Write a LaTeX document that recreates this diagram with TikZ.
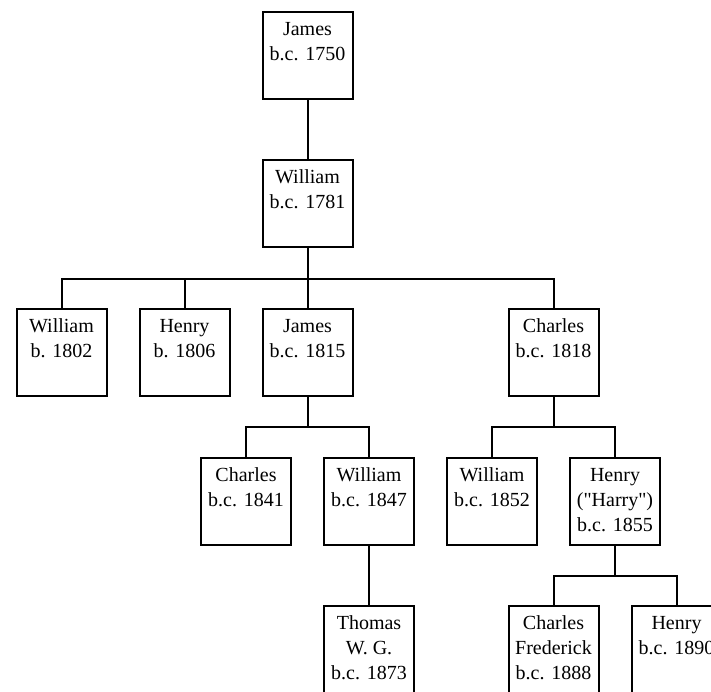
\documentclass[tikz,border=0pt]{standalone}
\usepackage{fontspec}
\setmainfont{Liberation Serif}[Ligatures=TeXOff]
\tikzset{
  person/.style = {
    draw, line width=2pt,
    minimum width=90pt, minimum height=87pt,
    anchor=north, align=center, inner sep=0pt,
    font=\fontsize{20}{25}\selectfont
  },
  link/.style = {line width=2pt}
}

\begin{document}
\begin{tikzpicture}[x=1pt,y=-1pt]
  \clip (0,0) rectangle (711,692);
  % generations
  \node[person] (j1750) at (307.5,11) {\strut James\\b.c. 1750\\\strut};
  \node[person] (w1781) at (307.5,159.5) {\strut William\\b.c. 1781\\\strut};
  \node[person] (w1802) at (61.5,308) {\strut William\\b. 1802\\\strut};
  \node[person] (h1806) at (184.5,308) {\strut Henry\\b. 1806\\\strut};
  \node[person] (j1815) at (307.5,308) {\strut James\\b.c. 1815\\\strut};
  \node[person] (c1818) at (553.5,308) {\strut Charles\\b.c. 1818\\\strut};
  \node[person] (c1841) at (246,456.5) {\strut Charles\\b.c. 1841\\\strut};
  \node[person] (w1847) at (369,456.5) {\strut William\\b.c. 1847\\\strut};
  \node[person] (w1852) at (492,456.5) {\strut William\\b.c. 1852\\\strut};
  \node[person] (h1855) at (615,456.5) {\strut Henry\\("Harry")\\b.c. 1855\strut};
  \node[person] (t1873) at (369,605) {\strut Thomas\\W. G.\\b.c. 1873\strut};
  \node[person] (c1888) at (553.5,605) {\strut Charles\\Frederick\\b.c. 1888\strut};
  \node[person] (h1890) at (676.5,605) {\strut Henry\\b.c. 1890\\\strut};
  % family lines
  \draw[link] (j1750.south) -- (w1781.north);
  \foreach \c in {w1802,h1806,j1815,c1818}
    \draw[link] (w1781.south) -- ++(0,30) -| (\c.north);
  \foreach \c in {c1841,w1847}
    \draw[link] (j1815.south) -- ++(0,30) -| (\c.north);
  \foreach \c in {w1852,h1855}
    \draw[link] (c1818.south) -- ++(0,30) -| (\c.north);
  \draw[link] (w1847.south) -- (t1873.north);
  \foreach \c in {c1888,h1890}
    \draw[link] (h1855.south) -- ++(0,30) -| (\c.north);
\end{tikzpicture}
\end{document}
